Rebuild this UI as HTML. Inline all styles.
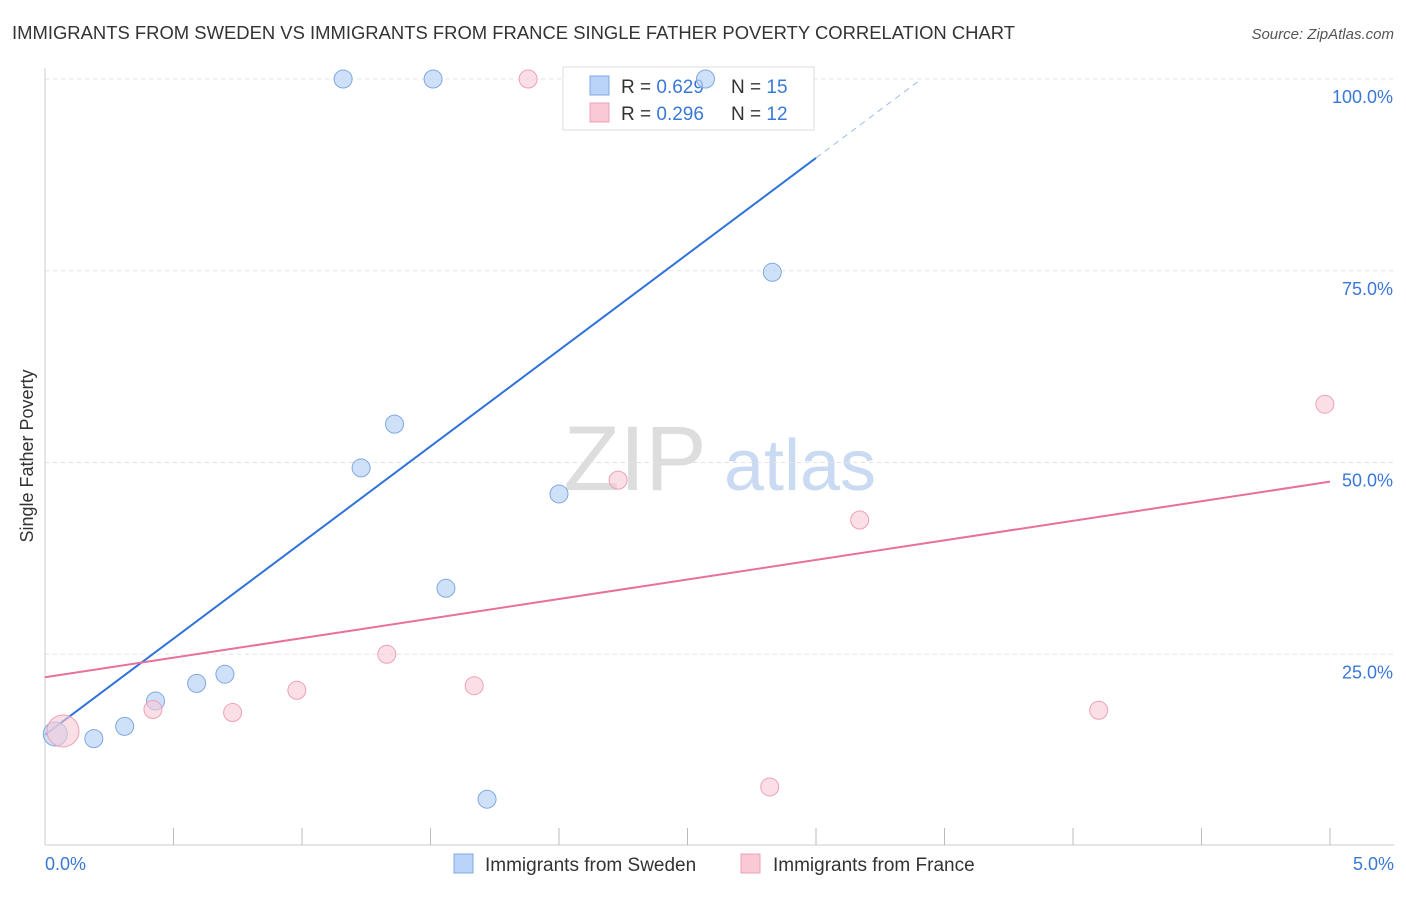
<!DOCTYPE html>
<html><head><meta charset="utf-8"><style>
body{margin:0;background:#fff;font-family:"Liberation Sans",sans-serif;}
svg text{font-family:"Liberation Sans",sans-serif;}
</style></head><body>
<svg id="chart" width="1406" height="892">
<text x="12" y="39" font-size="18" fill="#333" textLength="1003" lengthAdjust="spacingAndGlyphs">IMMIGRANTS FROM SWEDEN VS IMMIGRANTS FROM FRANCE SINGLE FATHER POVERTY CORRELATION CHART</text>
<text x="1394" y="39" font-size="15" fill="#555" font-style="italic" text-anchor="end">Source: ZipAtlas.com</text>
<text x="33" y="456" font-size="18" fill="#333" text-anchor="middle" transform="rotate(-90 33 456)">Single Father Poverty</text>
<g><text x="635" y="490" font-size="92" fill="#ddd" font-family="Liberation Serif" text-anchor="middle">ZIP</text><text x="800" y="490" font-size="72" fill="#c9daf2" text-anchor="middle">atlas</text></g>
<g id="grid"></g><g id="lines"></g>
<g>
<rect x="563" y="67" width="251" height="63" fill="#fff" stroke="#ddd"/>
<rect x="590" y="76" width="19" height="19" fill="#b9d4f7" stroke="#7fa8e0"/>
<text x="621" y="93" font-size="19" fill="#333">R = <tspan fill="#3a78d6">0.629</tspan></text>
<text x="731" y="93" font-size="19" fill="#333">N = <tspan fill="#3a78d6">15</tspan></text>
<rect x="590" y="103" width="19" height="19" fill="#f9c9d6" stroke="#eea0b6"/>
<text x="621" y="120" font-size="19" fill="#333">R = <tspan fill="#3a78d6">0.296</tspan></text>
<text x="731" y="120" font-size="19" fill="#333">N = <tspan fill="#3a78d6">12</tspan></text>
</g>
<g id="pts"></g>
<g>
<rect x="454" y="854" width="19" height="19" fill="#b9d4f7" stroke="#7fa8e0"/>
<text x="485" y="871" font-size="19" fill="#333">Immigrants from Sweden</text>
<rect x="741" y="854" width="19" height="19" fill="#f9c9d6" stroke="#eea0b6"/>
<text x="773" y="871" font-size="19" fill="#333">Immigrants from France</text>
</g>
</svg>
<script>
const yTicks=[25,50,75,100];
const xTickLabels=["0.0%","5.0%"];
const swedenX=[0.04,0.19,0.31,0.43,0.59,0.70,1.16,1.23,1.36,1.51,1.56,1.72,2.0,2.57,2.83];
const swedenY=[14.6,14.0,15.6,18.9,21.2,22.4,100,49.3,55.0,100,33.6,6.1,45.9,100,74.8];
const swedenR=[12,9,9,9,9,9,9,9,9,9,9,9,9,9,9];
const franceX=[0.07,0.42,0.73,0.98,1.33,1.67,1.88,2.23,2.82,3.17,4.10,4.98];
const franceY=[15.0,17.8,17.4,20.3,25.0,20.9,100,47.7,7.7,42.5,17.7,57.6];
const franceR=[16,9,9,9,9,9,9,9,9,9,9,9];
const swedenLine=[14.5,25.07];
const franceLine=[22.0,5.1];
const X=v=>45+v/5*1285, Y=v=>846-v/100*767;
const NS="http://www.w3.org/2000/svg";
function mk(p,t,a){const e=document.createElementNS(NS,t);for(const k in a)e.setAttribute(k,a[k]);document.getElementById(p).appendChild(e);return e;}
yTicks.forEach(t=>{
 const l=mk('grid','line',{x1:45,x2:1394,y1:Y(t),y2:Y(t),stroke:'#e3e3e3','stroke-dasharray':'4,4'});
 
 
 const tx=mk('grid','text',{x:1393,y:Y(t)+24,'font-size':18,fill:'#3a78d6','text-anchor':'end'});tx.textContent=t.toFixed(1)+'%';
 
 
});
mk('grid','line',{x1:45,x2:1394,y1:845,y2:845,stroke:'#ccc'});
mk('grid','line',{x1:45,x2:45,y1:68,y2:845,stroke:'#ccc'});
for(let i=1;i<=10;i++){const x=X(i*0.5);mk('grid','line',{x1:x,x2:x,y1:828,y2:845,stroke:'#bbb'});}
xTickLabels.forEach((s,i)=>{const t=mk('grid','text',{x:i?1394:45,y:870,'font-size':18,fill:'#3a78d6','text-anchor':i?'end':'start'});t.textContent=s;
 
 });
const sEnd=3.0, sY=x=>swedenLine[0]+swedenLine[1]*x;
const bl=mk('lines','line',{x1:X(0),y1:Y(sY(0)),x2:X(sEnd),y2:Y(sY(sEnd)),stroke:'#2f72d9','stroke-width':2});


const xe=(100-swedenLine[0])/swedenLine[1];
mk('lines','line',{x1:X(sEnd),y1:Y(sY(sEnd)),x2:X(xe),y2:Y(sY(xe)),stroke:'#9cbbe8','stroke-width':1,'stroke-dasharray':'6,5'});
const fY=x=>franceLine[0]+franceLine[1]*x;
const pl=mk('lines','line',{x1:X(0),y1:Y(fY(0)),x2:X(5),y2:Y(fY(5)),stroke:'#e8709a','stroke-width':2});


swedenX.forEach((x,i)=>{const c=mk('pts','circle',{cx:X(x),cy:Y(swedenY[i]),r:swedenR[i],fill:'rgba(185,212,247,0.7)',stroke:'#7fa8e0'});
 
 });
franceX.forEach((x,i)=>{const c=mk('pts','circle',{cx:X(x),cy:Y(franceY[i]),r:franceR[i],fill:'rgba(249,201,214,0.6)',stroke:'#eea0b6'});
 
 });
</script>
</body></html>
